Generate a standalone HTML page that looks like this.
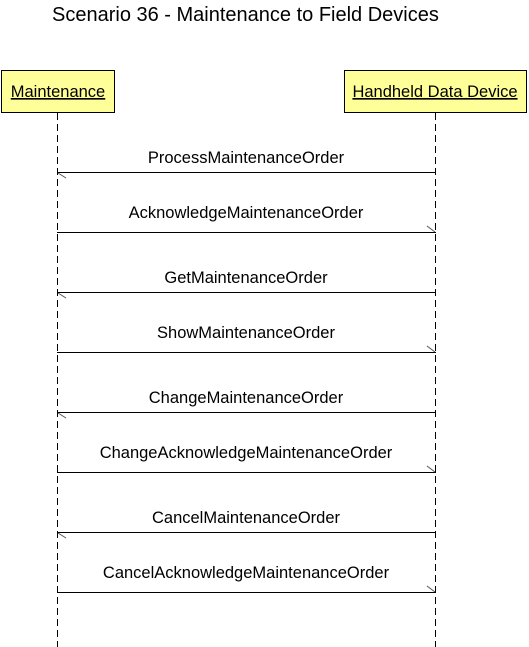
<!DOCTYPE html>
<html><head><meta charset="utf-8"><style>
html,body{margin:0;padding:0;background:#fff;}
svg{display:block;}
text{font-family:"Liberation Sans",Arial,sans-serif;fill:#000;}
</style></head><body>
<svg width="529" height="647" viewBox="0 0 529 647" xmlns="http://www.w3.org/2000/svg">
<text x="52" y="21" font-size="20">Scenario 36 - Maintenance to Field Devices</text>
<rect x="1.5" y="70.5" width="113" height="42" fill="#ffff99" stroke="#000" stroke-width="1"/>
<rect x="344.5" y="70.5" width="182" height="42" fill="#ffff99" stroke="#000" stroke-width="1"/>
<text x="58" y="97" font-size="16.5" text-anchor="middle" text-decoration="underline">Maintenance</text>
<text x="435" y="97" font-size="16.5" text-anchor="middle" text-decoration="underline">Handheld Data Device</text>
<line x1="57.5" y1="113" x2="57.5" y2="647" stroke="#000" stroke-dasharray="7,4"/>
<line x1="435.5" y1="113" x2="435.5" y2="647" stroke="#000" stroke-dasharray="7,4"/>
<g stroke="#000" stroke-width="1" fill="none">
<line x1="57" y1="172.5" x2="436" y2="172.5"/><line x1="58" y1="173" x2="66" y2="178" stroke="#555"/>
<line x1="57" y1="232.5" x2="436" y2="232.5"/><line x1="435" y1="232" x2="427" y2="226" stroke="#555"/>
<line x1="57" y1="292.5" x2="436" y2="292.5"/><line x1="58" y1="293" x2="66" y2="298" stroke="#555"/>
<line x1="57" y1="352.5" x2="436" y2="352.5"/><line x1="435" y1="352" x2="427" y2="346" stroke="#555"/>
<line x1="57" y1="412.5" x2="436" y2="412.5"/><line x1="58" y1="413" x2="66" y2="418" stroke="#555"/>
<line x1="57" y1="472.5" x2="436" y2="472.5"/><line x1="435" y1="472" x2="427" y2="466" stroke="#555"/>
<line x1="57" y1="532.5" x2="436" y2="532.5"/><line x1="58" y1="533" x2="66" y2="538" stroke="#555"/>
<line x1="57" y1="592.5" x2="436" y2="592.5"/><line x1="435" y1="592" x2="427" y2="586" stroke="#555"/>
</g>
<g font-size="16.5" text-anchor="middle">
<text x="246" y="163">ProcessMaintenanceOrder</text>
<text x="246" y="218">AcknowledgeMaintenanceOrder</text>
<text x="246" y="283">GetMaintenanceOrder</text>
<text x="246" y="338">ShowMaintenanceOrder</text>
<text x="246" y="403">ChangeMaintenanceOrder</text>
<text x="246" y="458">ChangeAcknowledgeMaintenanceOrder</text>
<text x="246" y="523">CancelMaintenanceOrder</text>
<text x="246" y="578">CancelAcknowledgeMaintenanceOrder</text>
</g>
</svg>
</body></html>
